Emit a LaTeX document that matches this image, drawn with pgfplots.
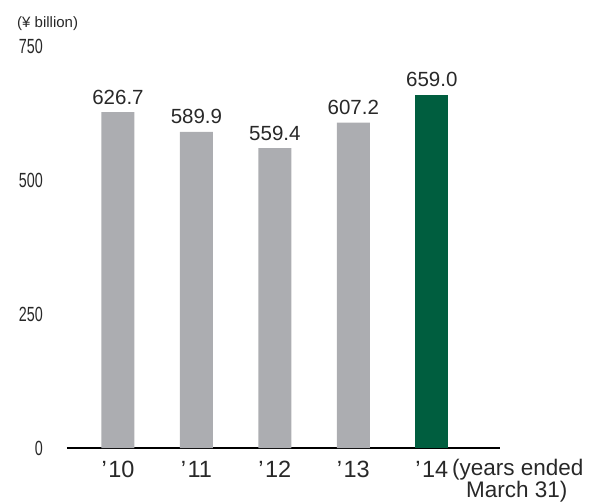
\documentclass[border=0pt]{standalone}
\usepackage{pgfplots}
\pgfplotsset{compat=1.18}
\usepackage{fontspec}
\setmainfont{Liberation Sans}
\newfontfamily\condfont[FakeStretch=0.7]{Liberation Sans}
\definecolor{bargray}{RGB}{172,173,177}
\definecolor{bargreen}{RGB}{0,94,63}
\definecolor{txt}{RGB}{40,40,40}
\begin{document}
\begin{tikzpicture}[x=1pt,y=1pt]
\path[use as bounding box] (-67,-55) rectangle (526,448);
\begin{axis}[
  at={(0,0)}, anchor=south west,
  scale only axis, width=433pt, height=402pt,
  xmin=-0.65, xmax=4.87, ymin=0, ymax=750,
  axis x line=bottom, axis y line=left,
  x axis line style={-, black, line width=1.1pt},
  y axis line style={draw=none},
  major tick length=0pt,
  xtick={0,1,2,3,4},
  xticklabels={’\kern1.5pt10,’\kern1.5pt11,’\kern1.5pt12,’\kern1.5pt13,’\kern1.5pt14},
  ytick={0,250,500,750},
  yticklabel style={font=\condfont\fontsize{20.5}{20.5}\selectfont, text=txt, anchor=east, inner sep=0pt, xshift=-24pt},
  xticklabel style={font=\fontsize{23.5}{23.5}\selectfont, text=txt, anchor=base, inner sep=0pt, yshift=-29.5pt},
  ybar, bar width=33pt, bar shift=0pt,
  /pgf/number format/assume math mode=true,
  nodes near coords={\pgfmathprintnumber[fixed,fixed zerofill,precision=1]{\pgfplotspointmeta}},
  nodes near coords style={font=\fontsize{20.5}{20.5}\selectfont, text=txt, anchor=base, yshift=8pt, inner sep=0pt},
  clip=false,
]
\addplot[fill=bargray, draw=none] coordinates {(0,626.7) (1,589.9) (2,559.4) (3,607.2)};
\addplot[fill=bargreen, draw=none] coordinates {(4,659.0)};
\end{axis}
\node[anchor=base west, font=\fontsize{15}{15}\selectfont, text=txt, inner sep=0pt] at (-50,420) {(¥ billion)};
\node[anchor=base west, font=\fontsize{22.5}{20}\selectfont, text=txt, inner sep=0pt, align=left] at (385,-49.5) {(years ended\\\hspace*{14pt}March 31)};
\end{tikzpicture}
\end{document}
